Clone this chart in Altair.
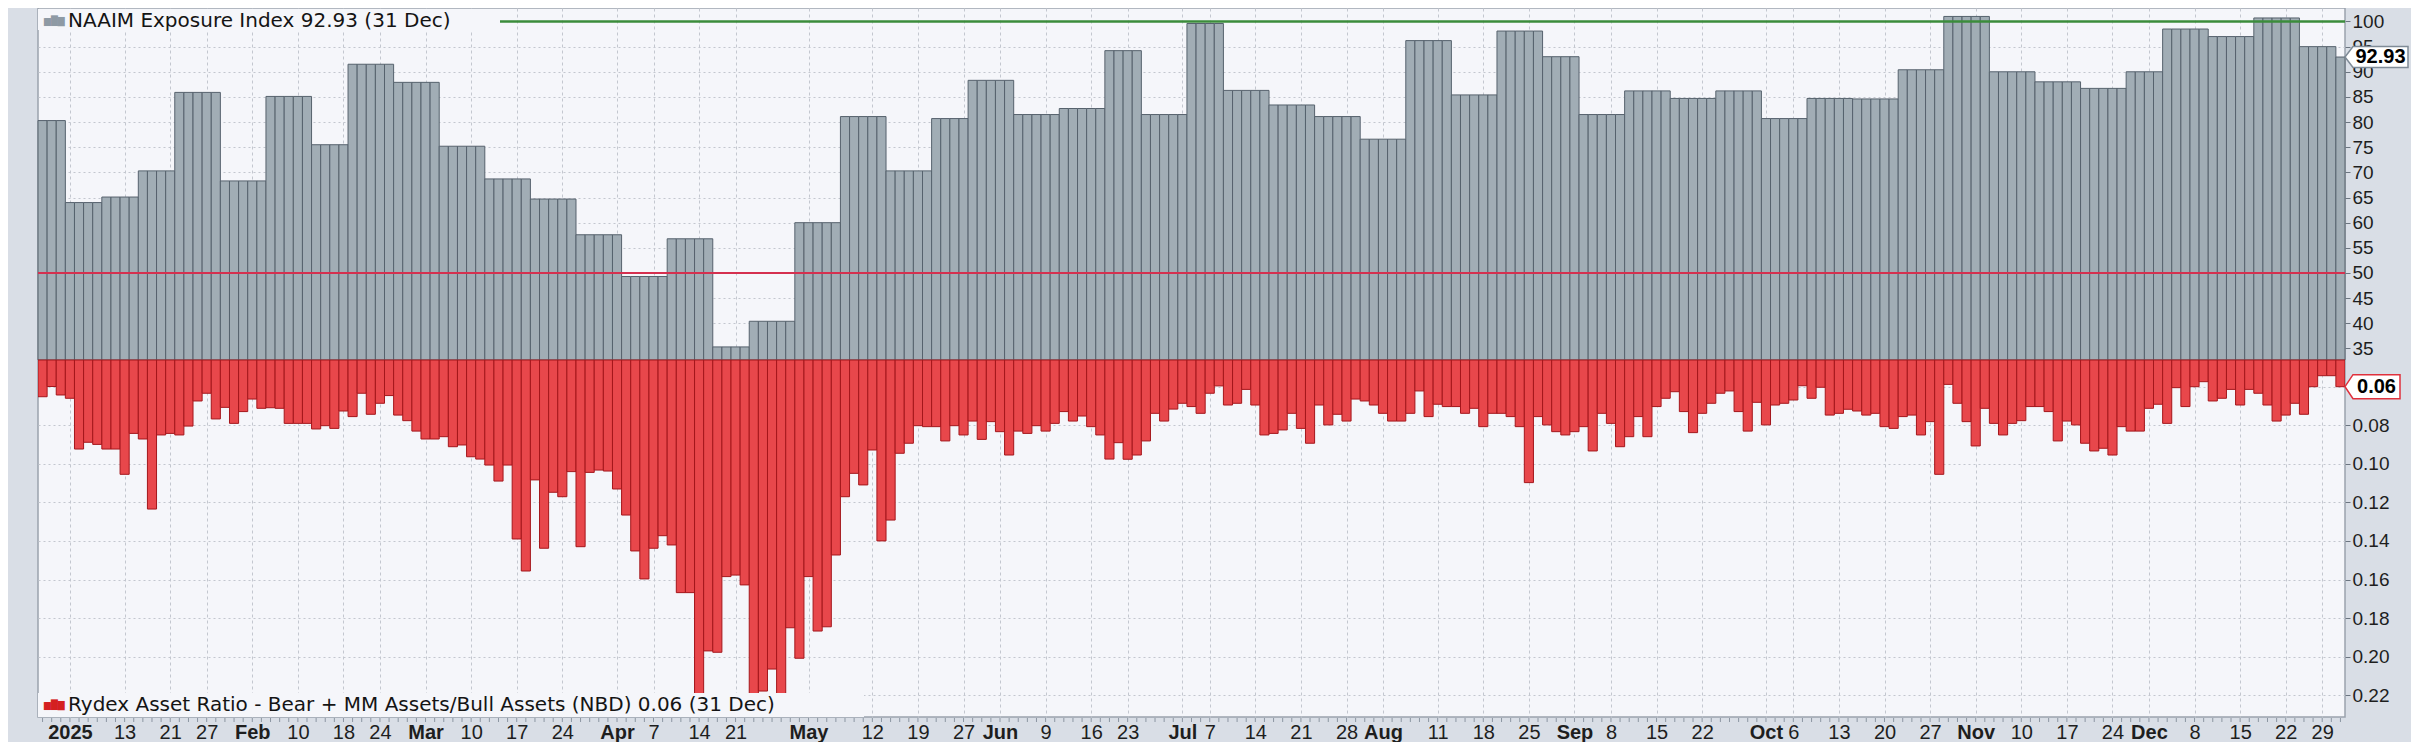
import json
import altair as alt
import pandas as pd

# ---------------- data ----------------
trade_start = "2024-12-27"
trade_end = "2025-12-31"
market_holidays = ["2025-01-01", "2025-01-09", "2025-01-20", "2025-02-17", "2025-04-18",
                   "2025-05-26", "2025-06-19", "2025-07-04", "2025-09-01", "2025-11-27",
                   "2025-12-25"]

naaim_week_start = [
    "2024-12-26", "2025-01-02", "2025-01-08", "2025-01-15", "2025-01-22", "2025-01-29",
    "2025-02-05", "2025-02-12", "2025-02-19", "2025-02-26", "2025-03-05", "2025-03-12",
    "2025-03-19", "2025-03-26", "2025-04-02", "2025-04-09", "2025-04-16", "2025-04-23",
    "2025-04-30", "2025-05-07", "2025-05-14", "2025-05-21", "2025-05-28", "2025-06-04",
    "2025-06-11", "2025-06-18", "2025-06-25", "2025-07-02", "2025-07-09", "2025-07-16",
    "2025-07-23", "2025-07-30", "2025-08-06", "2025-08-13", "2025-08-20", "2025-08-27",
    "2025-09-03", "2025-09-10", "2025-09-17", "2025-09-24", "2025-10-01", "2025-10-08",
    "2025-10-15", "2025-10-22", "2025-10-29", "2025-11-05", "2025-11-12", "2025-11-19",
    "2025-11-26", "2025-12-03", "2025-12-10", "2025-12-17", "2025-12-24", "2025-12-31"]
naaim_values = [
    80.3, 64.0, 65.1, 70.3, 85.9, 68.3, 85.1, 75.5, 91.5, 87.9, 75.2, 68.7, 64.7, 57.6,
    49.3, 56.8, 35.3, 40.4, 60.0, 81.1, 70.3, 80.7, 88.3, 81.5, 82.7, 94.2, 81.5, 99.6,
    86.3, 83.4, 81.1, 76.6, 96.2, 85.4, 98.1, 93.0, 81.5, 86.2, 84.7, 86.2, 80.7, 84.7,
    84.6, 90.4, 101.0, 90.0, 88.0, 86.7, 90.0, 98.5, 97.0, 100.7, 95.0, 92.93]

rydex_values = [
    0.0653, 0.0600, 0.0644, 0.0661, 0.0924, 0.0889, 0.0900, 0.0924, 0.0924, 0.1055,
    0.0843, 0.0872, 0.1235, 0.0851, 0.0843, 0.0851, 0.0805, 0.0675, 0.0635, 0.0768,
    0.0708, 0.0791, 0.0730, 0.0665, 0.0713, 0.0710, 0.0713, 0.0791, 0.0791, 0.0791,
    0.0820, 0.0803, 0.0817, 0.0727, 0.0756, 0.0635, 0.0744, 0.0687, 0.0647, 0.0748,
    0.0777, 0.0831, 0.0872, 0.0872, 0.0860, 0.0912, 0.0903, 0.0964, 0.0976, 0.1007,
    0.1090, 0.1007, 0.1390, 0.1556, 0.1084, 0.1438, 0.1148, 0.1171, 0.1041, 0.1430,
    0.1045, 0.1033, 0.1038, 0.1131, 0.1266, 0.1452, 0.1597, 0.1438, 0.1373, 0.1421,
    0.1668, 0.1668, 0.2350, 0.1970, 0.1977, 0.1585, 0.1577, 0.1628, 0.2400, 0.2178,
    0.2064, 0.2300, 0.1850, 0.2008, 0.1585, 0.1867, 0.1845, 0.1473, 0.1171, 0.1050,
    0.1110, 0.0929, 0.1400, 0.1292, 0.0946, 0.0894, 0.0803, 0.0808, 0.0808, 0.0882,
    0.0803, 0.0851, 0.0779, 0.0874, 0.0782, 0.0834, 0.0955, 0.0831, 0.0843, 0.0803,
    0.0831, 0.0791, 0.0730, 0.0779, 0.0753, 0.0808, 0.0851, 0.0976, 0.0891, 0.0977,
    0.0955, 0.0882, 0.0739, 0.0779, 0.0717, 0.0687, 0.0704, 0.0739, 0.0635, 0.0597,
    0.0696, 0.0687, 0.0615, 0.0696, 0.0851, 0.0843, 0.0825, 0.0739, 0.0817, 0.0894,
    0.0696, 0.0799, 0.0744, 0.0779, 0.0665, 0.0675, 0.0696, 0.0739, 0.0779, 0.0779,
    0.0739, 0.0623, 0.0756, 0.0692, 0.0704, 0.0704, 0.0739, 0.0713, 0.0808, 0.0739,
    0.0739, 0.0756, 0.0808, 0.1098, 0.0756, 0.0799, 0.0834, 0.0851, 0.0834, 0.0808,
    0.0934, 0.0739, 0.0791, 0.0912, 0.0860, 0.0756, 0.0860, 0.0704, 0.0661, 0.0627,
    0.0730, 0.0839, 0.0739, 0.0687, 0.0635, 0.0623, 0.0730, 0.0831, 0.0682, 0.0799,
    0.0696, 0.0687, 0.0670, 0.0596, 0.0661, 0.0604, 0.0748, 0.0739, 0.0718, 0.0727,
    0.0748, 0.0739, 0.0808, 0.0817, 0.0756, 0.0748, 0.0851, 0.0782, 0.1055, 0.0589,
    0.0687, 0.0782, 0.0908, 0.0713, 0.0791, 0.0851, 0.0791, 0.0777, 0.0704, 0.0704,
    0.0730, 0.0882, 0.0779, 0.0799, 0.0894, 0.0934, 0.0920, 0.0955, 0.0808, 0.0831,
    0.0831, 0.0713, 0.0692, 0.0791, 0.0606, 0.0704, 0.0601, 0.0575, 0.0675, 0.0661,
    0.0615, 0.0696, 0.0615, 0.0635, 0.0696, 0.0779, 0.0748, 0.0687, 0.0744, 0.0601,
    0.0544, 0.0544, 0.0601]

tick_dates = [
    "2025-01-02", "2025-01-13", "2025-01-21", "2025-01-27", "2025-02-03", "2025-02-10",
    "2025-02-18", "2025-02-24", "2025-03-03", "2025-03-10", "2025-03-17", "2025-03-24",
    "2025-04-01", "2025-04-07", "2025-04-14", "2025-04-21", "2025-05-01", "2025-05-12",
    "2025-05-19", "2025-05-27", "2025-06-02", "2025-06-09", "2025-06-16", "2025-06-23",
    "2025-07-01", "2025-07-07", "2025-07-14", "2025-07-21", "2025-07-28", "2025-08-01",
    "2025-08-11", "2025-08-18", "2025-08-25", "2025-09-02", "2025-09-08", "2025-09-15",
    "2025-09-22", "2025-10-01", "2025-10-06", "2025-10-13", "2025-10-20", "2025-10-27",
    "2025-11-03", "2025-11-10", "2025-11-17", "2025-11-24", "2025-12-01", "2025-12-08",
    "2025-12-15", "2025-12-22", "2025-12-29"]
tick_texts = [
    "2025", "13", "21", "27", "Feb", "10", "18", "24", "Mar", "10", "17", "24",
    "Apr", "7", "14", "21", "May", "12", "19", "27", "Jun", "9", "16", "23",
    "Jul", "7", "14", "21", "28", "Aug", "11", "18", "25", "Sep", "8", "15",
    "22", "Oct", "6", "13", "20", "27", "Nov", "10", "17", "24", "Dec", "8",
    "15", "22", "29"]
month_texts = ["2025", "Jan", "Feb", "Mar", "Apr", "May", "Jun", "Jul", "Aug", "Sep",
               "Oct", "Nov", "Dec"]

naaim_ticks = [35, 40, 45, 50, 55, 60, 65, 70, 75, 80, 85, 90, 95, 100]
rydex_ticks = [0.06, 0.08, 0.10, 0.12, 0.14, 0.16, 0.18, 0.20, 0.22]
naaim_levels = [100, 50]
naaim_title = "NAAIM Exposure Index 92.93 (31 Dec)"
rydex_title = "Rydex Asset Ratio - Bear + MM Assets/Bull Assets (NBD) 0.06 (31 Dec)"
naaim_last = ["92.93"]
rydex_last = ["0.06"]

# ---------------- table ----------------
days = pd.bdate_range(trade_start, trade_end)
days = days[~days.isin(pd.to_datetime(market_holidays))]
df = pd.DataFrame({"date": days, "i": range(len(days))})
wk = pd.DataFrame({"date": pd.to_datetime(naaim_week_start), "naaim": naaim_values})
df = pd.merge_asof(df, wk, on="date")
df["rydex"] = rydex_values
df["i0"] = df["i"] - 0.5
df["i1"] = df["i"] + 0.5
pos = {d.strftime("%Y-%m-%d"): k for d, k in zip(df["date"], df["i"])}
df["date"] = df["date"].dt.strftime("%Y-%m-%d")
tick_idx = [int(pos[d]) for d in tick_dates]
bold_idx = [k for k, t in zip(tick_idx, tick_texts) if t in month_texts]
n = len(df)

W, H = 2307, 709
FONT = "Liberation Sans, Arial, sans-serif"
LFONT = "DejaVu Sans, Verdana, sans-serif"
GRID = "#c3c7cf"

xscale = alt.Scale(domain=[-0.5, n - 0.5], nice=False, zero=False)
gscale = alt.Scale(domain=[-38.27, 102.68], nice=False, zero=False)
rscale = alt.Scale(domain=[-0.13611, 0.23124], nice=False, zero=False, reverse=True)
g_base = 32.70
r_base = 0.04627

xaxis = alt.Axis(
    values=tick_idx, title=None, orient="bottom",
    labelExpr=f"{json.dumps(tick_texts)}[indexof({json.dumps(tick_idx)}, datum.value)]",
    labelFontWeight=alt.condition(f"indexof({json.dumps(bold_idx)}, datum.value) >= 0",
                                  alt.value("bold"), alt.value("normal")),
    labelFont=FONT, labelFontSize=20, labelColor="#1e1e1e", labelPadding=5,
    labelOverlap=False, labelFlush=False, labelBound=False,
    ticks=False, domain=False,
    grid=True, gridColor=GRID, gridDash=[3, 3], gridWidth=1,
)
gaxis = alt.Axis(
    values=naaim_ticks, title=None, orient="right", labelFont=FONT, labelFontSize=19,
    labelColor="#1e1e1e", tickSize=5, tickColor="#6b7580", labelPadding=2, domain=False,
    grid=True, gridColor=GRID, gridDash=[2, 3], labelOverlap=False, labelBound=False,
)
raxis = alt.Axis(
    values=rydex_ticks, title=None, orient="right", labelFont=FONT,
    labelExpr=f"datum.value == {rydex_values[-1]:.2f} ? '' : format(datum.value, '.2f')",
    labelFontSize=19, labelColor="#1e1e1e", tickSize=5, tickColor="#6b7580",
    labelPadding=2, domain=False, grid=True, gridColor=GRID, gridDash=[2, 3],
    labelOverlap=False, labelBound=False,
)

GY = alt.Y("v:Q", scale=gscale, axis=gaxis)
RY = alt.Y("v:Q", scale=rscale, axis=raxis)

base = alt.Chart(df)

grey_bars = base.mark_rect(fill="#a1adb5", stroke="#56626d", strokeWidth=1).encode(
    x=alt.X("i0:Q", scale=xscale, axis=xaxis),
    x2="i1:Q",
    y=alt.Y("naaim:Q", scale=gscale, axis=gaxis),
    y2=alt.datum(g_base),
)

levels_df = pd.DataFrame({"v": naaim_levels, "c": ["green", "red"]})
green_rule = alt.Chart(levels_df).transform_filter("datum.c == 'green'").mark_rule(
    color="#3b8c3b", strokeWidth=2.5).encode(y=GY)
red_rule = alt.Chart(levels_df).transform_filter("datum.c == 'red'").mark_rule(
    color="#d5304f", strokeWidth=2).encode(y=GY)

top_title_df = pd.DataFrame({"t": [naaim_title]})
top_box = alt.Chart(top_title_df).mark_rect(fill="#f5f6fa").encode(
    x=alt.value(0), x2=alt.value(462), y=alt.value(1), y2=alt.value(22))
top_icon = alt.Chart(top_title_df).mark_text(
    text="▆█▇", align="left", baseline="middle", font=LFONT, fontSize=9,
    color="#8e9aa4").encode(x=alt.value(6), y=alt.value(13))
top_text = alt.Chart(top_title_df).mark_text(
    align="left", baseline="middle", font=LFONT, fontSize=20, color="#141414").encode(
    x=alt.value(30), y=alt.value(13), text="t:N")

g_tag_df = pd.DataFrame({"v": [naaim_values[-1]], "t": naaim_last})
g_tag = alt.Chart(g_tag_df).mark_point(
    shape="M-1,0L-0.746,-0.333L1,-0.333L1,0.333L-0.746,0.333Z", size=3969,
    filled=True, fill="white", stroke="#7f8b97", strokeWidth=1.5, opacity=1).encode(
    x=alt.value(W + 31.5), y=GY)
g_tag_text = alt.Chart(g_tag_df).mark_text(
    font=FONT, fontSize=20, fontWeight="bold", color="#000000", align="center",
    baseline="middle").encode(x=alt.value(W + 35.5), y=GY, text="t:N")

top = alt.layer(grey_bars, green_rule, red_rule, top_box, top_icon, top_text, g_tag, g_tag_text)

red_bars = base.mark_rect(fill="#e8474b", stroke="#a4161b", strokeWidth=1, clip=True).encode(
    x=alt.X("i0:Q", scale=xscale, axis=xaxis),
    x2="i1:Q",
    y=alt.Y("rydex:Q", scale=rscale, axis=raxis),
    y2=alt.datum(r_base),
)
day_ticks = base.mark_rule(color="#8c96a2", strokeWidth=1).encode(
    x=alt.X("i:Q", scale=xscale, axis=xaxis),
    y=alt.value(H + 1), y2=alt.value(H + 5),
)
bot_title_df = pd.DataFrame({"t": [rydex_title]})
bot_box = alt.Chart(bot_title_df).mark_rect(fill="#f5f6fa").encode(
    x=alt.value(0), x2=alt.value(826), y=alt.value(685), y2=alt.value(H))
bot_icon = alt.Chart(bot_title_df).mark_text(
    text="▆█▇", align="left", baseline="middle", font=LFONT, fontSize=9,
    color="#d42020").encode(x=alt.value(6), y=alt.value(697))
bot_text = alt.Chart(bot_title_df).mark_text(
    align="left", baseline="middle", font=LFONT, fontSize=20, color="#141414").encode(
    x=alt.value(30), y=alt.value(697), text="t:N")

r_tag_df = pd.DataFrame({"v": [rydex_values[-1]], "t": rydex_last})
r_tag = alt.Chart(r_tag_df).mark_point(
    shape="M-1,0L-0.709,-0.436L1,-0.436L1,0.436L-0.709,0.436Z", size=3025,
    filled=True, fill="white", stroke="#e0303c", strokeWidth=1.5, opacity=1).encode(
    x=alt.value(W + 27.5), y=RY)
r_tag_text = alt.Chart(r_tag_df).mark_text(
    font=FONT, fontSize=20, fontWeight="bold", color="#000000", align="center",
    baseline="middle").encode(x=alt.value(W + 31.5), y=RY, text="t:N")

bottom = alt.layer(red_bars, day_ticks, bot_box, bot_icon, bot_text, r_tag, r_tag_text)

chart = alt.layer(top, bottom).resolve_scale(y="independent").properties(
    width=W, height=H,
    padding={"left": 28, "top": 0, "right": 0, "bottom": 0},
    background="#d9dee6",
).configure_view(fill="#f5f6fa", stroke="#9aa2ad", strokeWidth=1.5)

chart.save("out.html", embed_options={"renderer": "svg", "actions": False})
